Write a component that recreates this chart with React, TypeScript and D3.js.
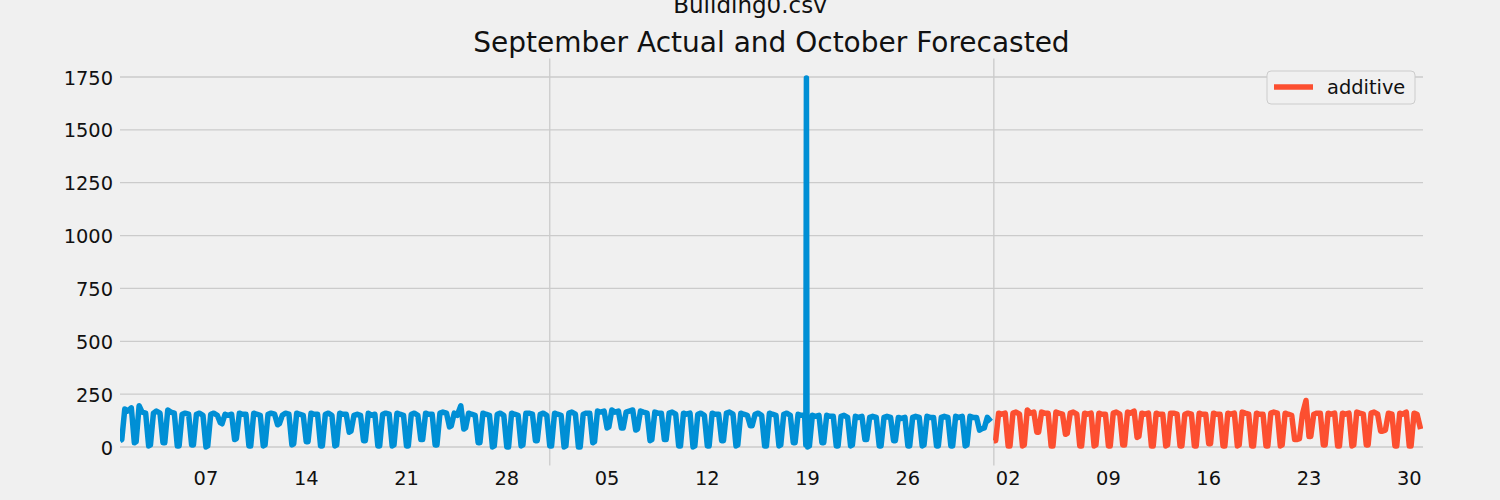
import * as d3 from "d3"

// five readings per day, hour of day of each: [night, early, morning, noon, evening]
const sampleHours = [0, 3, 8, 13, 19]

const septemberActual = [
  [30, 35, 180, 170, 185], [20, 25, 195, 165, 160], [5, 10, 160, 170, 160], [20, 20, 175, 165, 160],
  [5, 5, 155, 160, 155], [10, 10, 155, 160, 150], [0, 5, 155, 160, 150], [115, 110, 155, 150, 155],
  [35, 40, 160, 155, 155], [5, 5, 160, 155, 150], [5, 10, 155, 160, 155], [105, 110, 150, 160, 155],
  [10, 15, 160, 155, 150], [25, 25, 160, 155, 155], [5, 5, 155, 160, 150], [5, 10, 160, 155, 155],
  [70, 75, 150, 155, 150], [30, 30, 160, 150, 155], [5, 5, 155, 160, 155], [5, 10, 160, 155, 150],
  [5, 5, 155, 160, 150], [35, 35, 160, 155, 155], [10, 10, 160, 165, 160], [95, 100, 160, 150, 195],
  [85, 90, 160, 155, 150], [20, 20, 160, 155, 150], [0, 5, 155, 160, 150], [0, 0, 160, 155, 150],
  [5, 10, 160, 160, 155], [30, 30, 155, 160, 150],
]

const octoberActual = [
  [5, 5, 160, 155, 150], [0, 5, 160, 165, 155], [0, 0, 155, 160, 160], [20, 25, 170, 165, 170],
  [90, 95, 175, 165, 170], [90, 90, 165, 170, 175], [80, 85, 170, 165, 160], [30, 35, 165, 160, 160],
  [35, 35, 160, 165, 155], [5, 5, 160, 155, 160], [0, 5, 155, 160, 150], [5, 5, 160, 155, 155],
  [30, 30, 160, 165, 155], [5, 10, 160, 155, 150], [100, 100, 155, 160, 150], [5, 5, 160, 155, 150],
  [5, 10, 155, 160, 150], [20, 20, 155, 150, 150], [0, 5, 150, 145, 150], [20, 20, 150, 145, 145],
  [5, 5, 145, 150, 140], [5, 10, 145, 140, 145], [35, 35, 140, 145, 140], [5, 5, 140, 145, 140],
  [30, 30, 140, 135, 140], [5, 5, 140, 145, 140], [5, 10, 145, 140, 140], [5, 5, 140, 145, 140],
  [5, 5, 145, 140, 145], [5, 10, 145, 140, 140], [80, 85, 90, 140, 120],
]

// hourly readings around the meter spike
const spikeReadings: [string, number][] = [
  ["2019-10-18T21:00:00Z", 10],
  ["2019-10-18T22:00:00Z", 1745],
  ["2019-10-18T23:00:00Z", 20],
]

const novemberForecast = [
  [30, 30, 160, 155, 160], [5, 5, 160, 165, 155], [5, 10, 175, 160, 165], [70, 70, 165, 160, 160],
  [5, 5, 165, 160, 155], [60, 65, 160, 165, 155], [5, 5, 160, 155, 160], [5, 10, 160, 155, 155],
  [5, 5, 160, 165, 155], [10, 10, 165, 160, 170], [45, 50, 160, 155, 160], [5, 5, 160, 155, 155],
  [5, 10, 160, 160, 155], [5, 5, 155, 160, 155], [5, 5, 160, 155, 155], [15, 15, 160, 155, 155],
  [5, 5, 160, 155, 160], [5, 10, 165, 160, 155], [5, 5, 160, 155, 155], [5, 5, 160, 165, 160],
  [5, 10, 160, 155, 150], [35, 35, 40, 155, 220], [50, 50, 155, 160, 160], [10, 10, 160, 155, 160],
  [5, 5, 160, 155, 160], [5, 10, 165, 160, 155], [10, 10, 160, 165, 155], [75, 75, 80, 160, 155],
  [5, 5, 160, 155, 165], [5, 5, 160, 155, 85],
]

const weekTicks = [
  "2019-09-07", "2019-09-14", "2019-09-21", "2019-09-28", "2019-10-05",
  "2019-10-12", "2019-10-19", "2019-10-26", "2019-11-02", "2019-11-09",
  "2019-11-16", "2019-11-23", "2019-11-30",
]
const monthStarts = ["2019-10-01", "2019-11-01"]
const yTicks = [0, 250, 500, 750, 1000, 1250, 1500, 1750]
const xDomain = ["2019-09-01T00:00:00Z", "2019-11-30T23:00:00Z"]

type Point = { date: Date; value: number }

const parseDay = (s: string) => new Date(s + "T00:00:00Z")

function toPoints(startDay: string, rows: number[][]): Point[] {
  const start = parseDay(startDay)
  const pts: Point[] = []
  rows.forEach((row, i) => {
    const day = d3.utcDay.offset(start, i)
    row.forEach((v, j) => pts.push({ date: d3.utcHour.offset(day, sampleHours[j]), value: v }))
  })
  return pts
}

const WIDTH = 1500
const HEIGHT = 500
const plot = { left: 120, right: 1423, top: 58.5, bottom: 465.5 }
const FONT = "DejaVu Sans, sans-serif"
const BLUE = "#008fd5"
const RED = "#fc4f30"

export default function App() {
  const actual = [
    ...toPoints("2019-09-01", septemberActual),
    ...toPoints("2019-10-01", octoberActual),
    ...spikeReadings.map(([d, v]) => ({ date: new Date(d), value: v })),
  ].sort((a, b) => a.date.getTime() - b.date.getTime())
  const forecast = toPoints("2019-11-01", novemberForecast)

  const x = d3.scaleUtc()
    .domain(xDomain.map(d => new Date(d)))
    .range([plot.left, plot.right])

  const y = d3.scaleLinear()
    .domain([-87.5, 1837.5])
    .range([plot.bottom, plot.top])

  const line = d3.line<Point>()
    .x(d => x(d.date))
    .y(d => y(d.value))

  const fmtDay = d3.utcFormat("%d")

  return (
    <div style={{ position: "fixed", left: 0, top: 0 }}>
      <svg width={WIDTH} height={HEIGHT} style={{ display: "block", background: "#f0f0f0" }} fontFamily={FONT}>
        <defs>
          <clipPath id="plot-clip">
            <rect x={plot.left} y={plot.top} width={plot.right - plot.left} height={plot.bottom - plot.top} />
          </clipPath>
        </defs>

        {/* grid */}
        {yTicks.map(t => (
          <line key={`gy${t}`} x1={plot.left} x2={plot.right} y1={y(t)} y2={y(t)} stroke="#cbcbcb" strokeWidth={1.3} />
        ))}
        {monthStarts.map(m => (
          <line key={`gx${m}`} x1={x(parseDay(m))} x2={x(parseDay(m))} y1={plot.top} y2={plot.bottom} stroke="#cbcbcb" strokeWidth={1.3} />
        ))}

        {/* tick labels */}
        {yTicks.map(t => (
          <text key={`ty${t}`} x={plot.left - 7} y={y(t) + 7.5} textAnchor="end" fontSize={19.4} fill="#111">{t}</text>
        ))}
        {weekTicks.map(t => (
          <text key={`tx${t}`} x={x(parseDay(t))} y={485} textAnchor="middle" fontSize={19.4} fill="#111">{fmtDay(parseDay(t))}</text>
        ))}

        {/* series */}
        <g clipPath="url(#plot-clip)">
          <path d={line(actual) ?? ""} fill="none" stroke={BLUE} strokeWidth={5.5} strokeLinejoin="round" />
          <path d={line(forecast) ?? ""} fill="none" stroke={RED} strokeWidth={5.5} strokeLinejoin="round" />
        </g>

        {/* titles */}
        <text x={750} y={13} textAnchor="middle" fontSize={23} fill="#111">Building0.csv</text>
        <text x={(plot.left + plot.right) / 2} y={52} textAnchor="middle" fontSize={28} fill="#111">September Actual and October Forecasted</text>

        {/* legend */}
        <g transform="translate(1267,71)">
          <rect width={148} height={33} rx={4} fill="#f0f0f0" stroke="#cccccc" strokeWidth={1} />
          <line x1={7} x2={46} y1={16} y2={16} stroke={RED} strokeWidth={5.5} />
          <text x={60} y={23} fontSize={19.4} fill="#111">additive</text>
        </g>
      </svg>
    </div>
  )
}
